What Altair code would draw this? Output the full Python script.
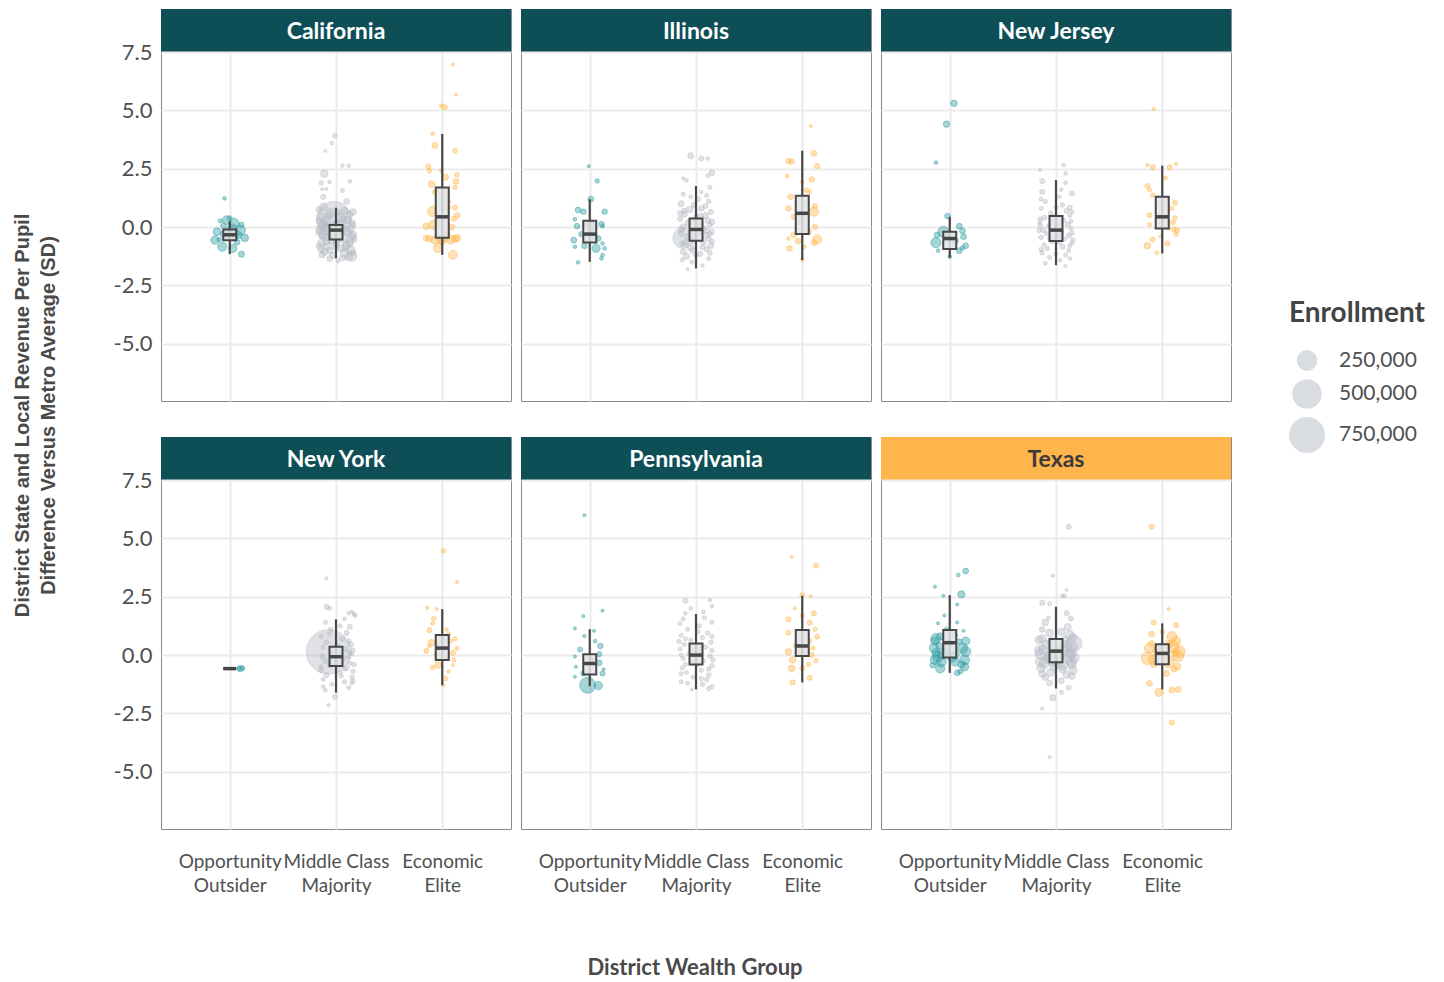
import altair as alt
import pandas as pd

states = ["California", "Illinois", "New Jersey", "New York", "Pennsylvania", "Texas"]
groups = ["Opportunity Outsider", "Middle Class Majority", "Economic Elite"]
group_colors = ["#2a9ba1", "#b4bac3", "#ffb447"]
strip_fill = {"Texas": "#ffb54c"}
strip_default = "#0e4f57"
strip_text = {"Texas": "#3a3a3a"}

# box summaries per state: (low whisker, q1, median, q3, high whisker) per group
box_stats = {
    "California":   [(-1.16, -0.56, -0.33, -0.10, 0.25), (-1.34, -0.53, -0.13, 0.09, 0.83), (-1.19, -0.46, 0.44, 1.70, 3.99)],
    "Illinois":     [(-1.49, -0.66, -0.30, 0.27, 1.19), (-1.77, -0.59, -0.10, 0.37, 1.76), (-1.41, -0.30, 0.59, 1.34, 3.27)],
    "New Jersey":   [(-1.31, -0.94, -0.49, -0.20, 0.44), (-1.63, -0.60, -0.13, 0.47, 2.01), (-1.13, -0.06, 0.44, 1.30, 2.63)],
    "New York":     [(-0.58, -0.58, -0.58, -0.58, -0.58), (-1.61, -0.47, -0.07, 0.36, 1.53), (-1.29, -0.21, 0.30, 0.86, 1.97)],
    "Pennsylvania": [(-1.33, -0.83, -0.36, 0.04, 1.11), (-1.47, -0.40, 0.00, 0.50, 1.76), (-1.17, -0.04, 0.39, 1.07, 2.54)],
    "Texas":        [(-0.76, -0.10, 0.53, 1.07, 2.57), (-1.43, -0.31, 0.17, 0.69, 2.07), (-1.47, -0.39, 0.07, 0.46, 1.36)],
}

# districts: (revenue difference SD, jitter within group, enrollment in thousands)
CA_OO = [(1.23,-0.05,8),(0.30,-0.03,45),(0.16,0.04,60),(0.26,-0.09,10),(-0.20,-0.12,35),(-0.56,-0.14,40),(-0.84,-0.07,50),
         (-0.91,0.03,40),(-1.16,0.11,22),(-0.13,0.10,60),(-0.46,0.14,35),(-0.34,0.08,30),(-0.53,-0.10,12),(-0.25,-0.02,40),
         (-0.40,0.05,25),(0.05,-0.06,18),(-0.10,0.02,70),(-0.65,0.07,18),(-0.30,-0.06,22),(0.38,0.00,14),(-0.45,-0.04,20),(0.10,0.11,16)]
CA_MC = [(3.91,-0.01,12),(3.60,-0.04,8),(3.26,-0.10,5),(2.29,-0.11,35),(2.63,0.06,8),(2.63,0.12,8),(1.89,-0.14,12),(1.93,-0.06,8),
         (1.96,0.13,8),(1.63,-0.13,6),(1.63,-0.09,6),(1.56,0.06,10),(1.30,-0.12,15),(1.10,0.10,20),(0.35,-0.02,700),
         (0.85,-0.12,40),(0.70,0.08,30),(0.60,-0.05,50),(0.55,0.13,25),(0.45,-0.14,35),(0.40,0.04,60),(0.30,0.11,30),(0.25,-0.09,45),
         (0.18,0.15,25),(0.10,-0.13,40),(0.05,0.06,35),(0.00,-0.03,50),(-0.05,0.14,30),(-0.10,-0.15,40),(-0.15,0.09,45),(-0.20,-0.07,35),
         (-0.25,0.12,30),(-0.30,-0.12,50),(-0.35,0.03,40),(-0.40,0.15,35),(-0.45,-0.10,30),(-0.50,0.07,45),(-0.55,-0.04,35),(-0.60,0.13,40),
         (-0.68,-0.14,30),(-0.75,0.10,35),(-0.82,-0.08,45),(-0.90,0.05,30),(-0.98,0.14,40),(-1.05,-0.11,30),(-1.12,0.08,50),(-1.20,-0.03,25),
         (-1.28,0.12,35),(-1.35,-0.06,20),(-1.45,0.02,10),(-1.25,0.15,60),(-0.95,-0.14,25),(0.62,0.02,20),(0.20,0.00,25),(-0.70,0.00,25)]
CA_MC2 = [(0.75,-0.16,20),(0.65,0.16,25),(0.50,-0.07,30),(0.35,0.07,25),(0.15,-0.11,30),(0.08,0.16,20),(-0.02,-0.10,25),
          (-0.12,0.04,30),(-0.22,-0.16,25),(-0.32,0.16,30),(-0.42,-0.01,25),(-0.52,0.17,20),(-0.62,-0.09,30),(-0.72,0.13,25),
          (-0.80,-0.16,20),(-0.88,0.09,30),(-1.00,-0.06,25),(-1.10,0.16,20),(-1.18,-0.13,25),(-1.32,0.06,20),(-0.58,0.01,30),
          (0.28,-0.16,20),(-0.38,-0.13,25),(-0.85,0.00,25)]
CA_EE = [(6.96,0.10,6),(5.67,0.13,6),(5.14,0.02,20),(5.20,-0.01,8),(4.00,-0.09,8),(3.50,-0.07,20),(3.27,0.12,14),(2.60,-0.13,15),
         (2.41,-0.12,12),(2.42,-0.01,8),(2.14,0.03,22),(2.24,0.14,12),(1.96,0.13,20),(1.84,-0.10,25),(1.50,-0.07,14),(1.39,0.02,14),
         (1.70,0.12,12),(0.67,-0.09,60),(0.83,0.05,20),(0.84,0.12,15),(0.50,0.14,20),(0.36,0.11,15),(0.03,-0.15,25),(0.10,-0.08,55),
         (-0.30,0.04,30),(0.00,0.09,20),(-0.47,0.14,30),(-0.47,-0.15,20),(-0.50,-0.12,25),(-0.55,-0.07,40),(-0.55,-0.02,30),(-0.50,0.03,25),
         (-0.55,0.08,40),(-0.50,0.12,30),(-0.90,-0.04,50),(-1.19,0.10,45),(-0.60,0.00,30),(0.20,-0.03,15),(1.10,0.06,12)]

IL_OO = [(2.61,-0.01,6),(1.98,0.07,12),(1.20,0.01,20),(0.73,-0.11,20),(0.66,-0.06,18),(0.66,0.14,18),(0.34,-0.14,8),(0.04,-0.12,18),
         (0.13,0.11,18),(0.04,0.12,10),(-0.56,-0.15,20),(-0.84,-0.14,8),(-0.81,-0.05,18),(-0.91,0.06,40),(-0.70,0.12,8),(-0.91,0.14,8),
         (-1.20,0.12,8),(-1.34,0.11,8),(-1.51,-0.11,8),(-0.49,0.08,18),(-0.30,-0.08,15),(0.00,0.02,60),(-0.40,0.04,25),(0.20,-0.04,12)]
IL_MC = [(3.06,-0.05,20),(2.94,0.05,15),(2.94,0.11,8),(2.33,0.15,20),(2.20,0.11,10),(2.09,-0.12,6),(2.00,-0.09,8),(1.70,0.13,10),
         (1.41,-0.12,10),(1.30,-0.05,8),(1.10,0.12,12),(-0.47,-0.12,250),
         (1.50,0.05,8),(1.20,0.02,15),(1.00,-0.14,20),(0.90,0.09,15),(0.75,-0.06,25),(0.65,0.14,15),(0.55,-0.11,20),(0.45,0.04,25),
         (0.35,-0.15,15),(0.28,0.11,20),(0.18,-0.07,25),(0.10,0.13,15),(0.02,-0.12,20),(-0.05,0.06,30),(-0.12,-0.03,25),(-0.20,0.15,15),
         (-0.28,-0.14,20),(-0.35,0.09,25),(-0.42,-0.08,20),(-0.50,0.12,15),(-0.58,-0.02,25),(-0.65,0.07,20),(-0.72,-0.13,15),(-0.80,0.14,20),
         (-0.88,-0.05,25),(-0.95,0.10,15),(-1.05,-0.12,20),(-1.15,0.04,15),(-1.25,-0.09,20),(-1.35,0.12,10),(-1.50,-0.04,10),(-1.65,0.06,8),
         (-1.80,-0.08,6),(0.40,0.00,20),(-0.25,0.02,30)]
IL_MC2 = [(1.35,0.10,10),(0.95,-0.02,15),(0.80,0.05,20),(0.60,-0.15,15),(0.50,0.09,20),(0.30,-0.04,15),(0.22,0.15,20),(0.05,0.04,15),
          (-0.10,-0.14,20),(-0.30,0.13,15),(-0.38,-0.02,20),(-0.62,0.15,15),(-0.68,-0.10,20),(-0.85,0.06,15),(-1.00,-0.03,20),
          (-1.10,0.13,15),(-1.20,0.00,15),(-1.40,-0.13,10),(0.70,-0.11,15),(-0.15,0.10,20)]
IL_EE = [(4.33,0.08,6),(3.16,0.11,20),(2.61,0.14,18),(2.83,-0.13,18),(2.80,-0.10,18),(2.19,-0.14,8),(2.04,0.09,18),(1.94,0.00,8),
         (1.59,0.04,12),(1.30,-0.11,18),(1.50,0.07,10),(0.80,-0.13,18),(0.66,0.11,50),(0.44,-0.08,15),(0.01,0.12,15),(-0.34,-0.08,18),
         (-0.53,0.14,50),(-0.67,0.11,18),(-0.49,-0.13,8),(-0.91,-0.12,18),(-0.84,0.02,8),(-1.41,0.00,8),(0.20,-0.03,15),(1.00,0.03,15),
         (-0.20,0.06,20),(0.90,0.12,15),(-0.60,-0.04,20)]

NJ_OO = [(5.30,0.04,25),(4.41,-0.03,25),(2.76,-0.13,8),(0.47,-0.02,20),(0.04,0.09,20),(-0.20,-0.06,70),(-0.34,-0.12,20),(-0.67,-0.13,60),
         (-0.16,0.12,20),(-0.41,0.13,20),(-0.80,0.15,20),(-1.01,0.09,20),(-1.01,-0.11,8),(-1.27,0.00,8),(-0.60,0.05,25),(-0.90,0.12,12),
         (-0.50,-0.02,30)]
NJ_MC = [(2.66,0.07,8),(2.44,-0.15,6),(1.97,-0.13,15),(2.30,0.09,8),(1.90,0.09,8),(1.44,0.15,15),(1.51,-0.13,15),(0.83,0.13,15),
         (1.30,0.03,8),(1.10,-0.10,10),(0.95,0.06,12),(0.80,-0.14,10),(0.70,0.10,15),(0.60,-0.05,12),(0.50,0.13,10),(0.40,-0.11,15),
         (0.30,0.07,12),(0.20,-0.15,10),(0.12,0.11,15),(0.05,-0.07,12),(-0.05,0.14,10),(-0.12,-0.12,15),(-0.20,0.05,12),(-0.28,-0.09,10),
         (-0.36,0.12,15),(-0.44,-0.14,12),(-0.52,0.08,10),(-0.60,-0.04,15),(-0.68,0.15,12),(-0.76,-0.11,10),(-0.84,0.06,15),(-0.92,-0.08,12),
         (-1.00,0.12,10),(-1.10,-0.13,12),(-1.20,0.09,10),(-1.30,-0.06,10),(-1.42,0.04,8),(-1.55,-0.10,8),(-1.67,0.09,6),(0.00,0.00,15),
         (-0.40,0.02,15)]
NJ_MC2 = [(1.60,0.05,8),(1.20,-0.14,10),(0.85,0.00,12),(0.65,0.15,10),(0.45,-0.03,12),(0.25,0.14,10),(0.08,-0.15,12),(-0.08,0.03,10),
          (-0.25,0.15,12),(-0.48,-0.06,10),(-0.65,0.03,12),(-0.80,0.13,10),(-0.95,-0.14,12),(-1.15,0.00,10),(-1.35,0.13,8),
          (-0.15,-0.16,12),(0.35,-0.15,10),(-0.55,0.16,10)]
NJ_EE = [(5.06,-0.08,6),(2.66,-0.14,6),(2.56,0.07,15),(2.70,0.13,6),(2.56,-0.09,15),(2.10,0.03,10),(1.76,-0.14,15),(1.60,-0.12,10),
         (1.37,-0.09,12),(1.04,0.12,15),(0.51,-0.12,15),(0.40,0.12,12),(-0.13,0.14,15),(-0.10,0.11,12),(-0.05,0.06,10),(-0.80,-0.14,25),
         (-0.53,-0.09,15),(-0.70,0.05,15),(-0.40,-0.01,10),(0.10,-0.12,10),(0.80,0.09,10),(0.20,0.10,15),(-0.30,0.13,12),(1.20,0.05,8),
         (-1.10,-0.05,8)]

NY_OO = [(-0.58,0.10,25),(-0.56,0.12,12),(-0.58,0.09,8)]
NY_MC = [(0.14,-0.07,1150),(3.29,-0.09,6),(2.07,-0.09,15),(2.00,-0.06,10),(1.80,0.12,8),(1.85,0.15,8),(1.75,0.17,8),(1.70,0.18,10),
         (1.21,0.13,15),(1.40,-0.10,10),(1.10,-0.05,12),(0.95,0.10,15),(0.80,-0.14,12),(0.70,0.06,15),(0.55,-0.09,12),(0.45,0.14,15),
         (0.35,-0.12,10),(0.25,0.09,15),(0.15,-0.04,12),(0.05,0.15,10),(-0.05,-0.13,15),(-0.15,0.07,12),(-0.25,-0.10,15),(-0.35,0.13,10),
         (-0.45,-0.06,12),(-0.55,0.10,15),(-0.65,-0.14,12),(-0.75,0.04,10),(-0.85,-0.09,15),(-0.95,0.15,12),(-1.05,-0.12,10),(-1.15,0.08,12),
         (-1.25,-0.04,10),(-1.40,0.12,10),(-1.50,-0.10,8),(-1.79,-0.01,15),(-2.14,-0.07,6),(-1.10,0.16,10),(0.00,0.02,12)]
NY_MC2 = [(1.55,0.08,8),(1.25,0.04,10),(0.90,-0.06,12),(0.60,0.12,12),(0.40,0.02,10),(0.20,0.16,12),(-0.10,0.12,10),(-0.30,0.03,12),
          (-0.50,-0.14,10),(-0.70,0.16,12),(-0.90,0.05,10),(-1.20,0.15,10),(-1.35,-0.12,8),(-0.40,0.17,12),(0.10,0.13,12),(-0.60,0.08,10)]
NY_EE = [(4.46,0.01,12),(3.12,0.14,6),(2.03,-0.14,6),(1.97,-0.05,6),(1.57,-0.08,12),(1.36,-0.09,8),(1.07,-0.12,15),(1.10,0.04,8),
         (0.90,0.06,10),(0.53,-0.10,25),(0.60,0.08,10),(0.29,0.14,10),(0.10,0.10,15),(0.18,-0.15,15),(0.40,-0.12,10),(-0.10,0.05,10),
         (-0.21,0.11,10),(-0.43,0.10,6),(-0.43,-0.04,25),(-0.53,-0.09,12),(-1.00,0.03,15),(-1.29,0.01,6),(0.70,0.12,10),(0.00,-0.06,10),
         (-0.70,0.06,8)]

PA_OO = [(5.99,-0.05,6),(1.90,0.12,6),(1.67,-0.06,6),(1.14,-0.14,6),(1.04,0.04,6),(0.81,-0.05,6),(0.39,0.10,18),(0.24,-0.09,15),
         (-0.06,-0.14,6),(0.04,0.09,15),(-0.50,-0.13,6),(-0.33,0.09,18),(-0.61,0.13,6),(-0.93,-0.14,6),(-0.79,-0.06,15),(-0.79,0.12,15),
         (-1.29,-0.02,150),(-1.31,0.08,40),(-0.20,0.02,12),(0.60,0.05,8)]
PA_MC = [(2.33,-0.10,15),(2.36,0.13,8),(2.10,0.15,8),(1.79,-0.10,8),(1.85,0.07,8),(1.40,0.15,10),
         (1.55,-0.12,10),(1.25,0.03,12),(1.10,-0.08,10),(0.95,0.11,12),(0.85,-0.14,10),(0.75,0.06,12),(0.65,-0.05,10),(0.55,0.14,12),
         (0.45,-0.11,10),(0.35,0.09,12),(0.25,-0.15,10),(0.15,0.04,12),(0.05,-0.07,10),(-0.05,0.13,12),(-0.15,-0.12,10),(-0.25,0.07,12),
         (-0.35,-0.04,10),(-0.45,0.15,12),(-0.55,-0.13,10),(-0.65,0.05,12),(-0.75,-0.09,10),(-0.85,0.12,12),(-0.95,-0.03,10),(-1.05,0.10,12),
         (-1.15,-0.14,10),(-1.25,0.06,12),(-1.43,0.12,12),(-1.47,-0.04,6),(0.30,0.00,10),(-0.40,0.02,10)]
PA_MC2 = [(2.00,-0.05,8),(1.60,0.08,10),(1.35,-0.15,10),(1.00,0.02,12),(0.80,0.15,10),(0.58,-0.16,12),(0.40,0.04,10),(0.20,0.15,12),
          (0.00,-0.14,10),(-0.20,0.16,12),(-0.40,-0.10,10),(-0.60,0.12,12),(-0.80,-0.14,10),(-1.00,0.05,12),(-1.20,-0.08,10),
          (-1.35,0.15,10),(-0.10,0.00,10),(0.70,-0.10,10)]
PA_EE = [(4.21,-0.10,6),(3.83,0.13,15),(2.57,0.00,15),(2.54,0.08,6),(2.00,-0.07,6),(1.53,-0.13,15),(1.79,0.11,15),(1.70,0.00,10),
         (1.39,0.07,15),(0.96,-0.13,15),(1.10,0.12,10),(0.79,0.14,15),(0.60,0.07,12),(0.14,-0.13,25),(0.14,-0.02,12),(0.30,0.10,12),
         (-0.21,-0.09,25),(-0.24,0.13,12),(-0.57,-0.10,25),(-0.57,0.00,15),(-1.17,-0.09,15),(-0.97,0.07,15),(0.40,-0.06,15),(-0.40,0.06,12),
         (1.00,0.02,10),(0.00,0.09,15)]

TX_OO = [(3.60,0.15,20),(3.43,0.08,8),(2.93,-0.14,6),(2.54,-0.06,6),(2.60,0.11,30),(2.17,0.07,6),(1.36,-0.11,6),(1.70,-0.05,6),
         (1.40,0.07,6),(1.04,0.13,6),(0.71,-0.13,60),(0.60,-0.14,40),(0.57,0.09,20),(0.29,0.12,60),(-0.07,-0.11,70),(-0.29,-0.08,60),
         (-0.21,0.14,60),(-0.57,-0.09,50),(-0.76,0.07,20),(-0.70,0.10,15),(-0.43,-0.16,20),(0.20,-0.04,30),(0.00,0.05,40),(0.40,-0.10,25),
         (0.85,0.05,15),(-0.10,0.02,50),(0.10,-0.13,40),(-0.40,0.11,30),(1.10,-0.03,12),(0.50,0.00,25),
         (0.30,-0.15,50),(0.15,0.15,60),(-0.20,-0.14,50),(0.60,0.15,40),(-0.50,0.14,40),(0.80,-0.09,30),(-0.30,0.05,40),(0.05,-0.07,60)]
TX_MC = [(5.50,0.12,15),(3.40,-0.03,6),(2.79,0.10,6),(2.54,0.06,8),(2.54,0.08,8),(2.24,-0.13,15),(2.20,-0.06,10),(1.57,0.14,15),
         (1.60,-0.07,8),(1.10,-0.13,20),(1.40,-0.10,25),(1.20,0.11,30),(0.95,-0.06,35),(0.85,0.13,50),(0.70,-0.13,40),(0.60,0.08,60),
         (0.45,-0.09,45),(0.35,0.15,70),(0.25,-0.12,50),(0.15,0.06,90),(0.05,-0.15,60),(-0.05,0.12,80),(-0.15,-0.08,50),(-0.25,0.14,70),
         (-0.35,-0.11,60),(-0.45,0.07,50),(-0.55,-0.14,45),(-0.65,0.16,40),(-0.75,-0.05,35),(-0.85,0.10,30),(-0.95,-0.10,25),(-1.10,0.05,20),
         (-1.40,0.12,15),(-1.83,-0.03,25),(-2.29,-0.13,6),(-4.37,-0.06,6),(0.30,0.02,40),(-0.20,0.00,40),(0.50,0.17,150),(-0.10,-0.02,180)]
TX_MC2 = [(1.00,0.05,30),(0.75,0.16,40),(0.55,-0.04,50),(0.40,0.10,60),(0.20,-0.16,50),(0.10,0.14,70),(-0.02,-0.06,60),(-0.12,0.17,60),
          (-0.30,-0.15,50),(-0.40,0.15,45),(-0.50,-0.02,40),(-0.60,0.06,35),(-0.80,-0.13,30),(-0.90,0.15,25),(-1.20,-0.06,20),
          (0.65,-0.16,40),(-0.35,0.02,50),(1.80,0.10,15),(-1.60,0.05,10)]
TX_EE = [(5.50,-0.10,15),(1.97,0.06,6),(1.39,-0.08,15),(1.29,0.13,15),(1.00,0.00,12),(0.79,0.09,60),(0.36,0.10,90),(-0.14,-0.14,90),
         (-0.29,0.06,80),(0.20,-0.05,40),(0.10,0.12,30),(-0.79,0.04,20),(-1.21,-0.12,20),(-1.50,0.09,20),(-1.47,0.15,20),(-1.60,-0.03,40),
         (-2.89,0.09,15),(0.50,-0.10,20),(-0.40,-0.08,25),(-0.60,0.11,20),(0.00,0.02,30),
         (0.60,0.13,50),(0.30,-0.12,60),(-0.05,0.15,70),(-0.20,-0.08,60),(0.15,0.16,80),(-0.50,0.14,30),(0.90,-0.10,20),(0.45,0.06,40)]

districts = {
    "California": [CA_OO, CA_MC + CA_MC2, CA_EE],
    "Illinois": [IL_OO, IL_MC + IL_MC2, IL_EE],
    "New Jersey": [NJ_OO, NJ_MC + NJ_MC2, NJ_EE],
    "New York": [NY_OO, NY_MC + NY_MC2, NY_EE],
    "Pennsylvania": [PA_OO, PA_MC + PA_MC2, PA_EE],
    "Texas": [TX_OO, TX_MC + TX_MC2, TX_EE],
}

y_ticks = [-5.0, -2.5, 0.0, 2.5, 5.0, 7.5]
legend_values = [250000, 500000, 750000]
FONT = "Lato"
PANEL_W, PANEL_H, STRIP_H = 350, 349, 43
INK = "#474747"

label_lines = [[g.rsplit(" ", 1)[0], g.rsplit(" ", 1)[1]] for g in groups]
label_expr = " : ".join(
    [f"datum.value == {i} ? {label_lines[i]!r}" for i in range(2)]) + f" : {label_lines[2]!r}"
y_label_expr = "datum.value < 0 ? '-' + format(-datum.value, '.1f') : format(datum.value, '.1f')"


def x_enc(field, show_labels):
    return alt.X(f"{field}:Q", scale=alt.Scale(domain=[-0.6, 2.6], nice=False, zero=False),
                 axis=alt.Axis(values=[0, 1, 2], grid=True, labels=show_labels, ticks=False, domain=False,
                               title=None, labelExpr=label_expr, labelPadding=23, labelLineHeight=24,
                               labelFontSize=19, labelColor="#505050", labelFont=FONT))


def y_enc(field, show_labels):
    return alt.Y(f"{field}:Q", scale=alt.Scale(domain=[-7.45, 7.5], nice=False, zero=False),
                 axis=alt.Axis(values=y_ticks, grid=True, labels=show_labels, ticks=False,
                               domain=False, title=None, labelPadding=9, labelFontSize=22,
                               labelExpr=y_label_expr, labelColor="#505050", labelFont=FONT))


def panel(state, row, col):
    rows = []
    for gi, pts in enumerate(districts[state]):
        for (v, j, e) in pts:
            rows.append({"group": groups[gi], "pos": gi + j, "value": v, "Enrollment": e * 1000})
    pdf = pd.DataFrame(rows)
    bdf = pd.DataFrame([{"gidx": gi, "lo": s[0], "q1": s[1], "med": s[2], "q3": s[3], "hi": s[4]}
                        for gi, s in enumerate(box_stats[state])])
    show_x = row == 1
    show_y = col == 0

    pts = alt.Chart(pdf).mark_circle(fillOpacity=0.42, strokeOpacity=0.55, strokeWidth=0.8).encode(
        x=x_enc("pos", show_x), y=y_enc("value", show_y),
        size=alt.Size("Enrollment:Q", scale=alt.Scale(domain=[0, 750000], range=[0, 1296]),
                      legend=alt.Legend(title="Enrollment", values=legend_values,
                                        labelExpr="format(datum.value, ',')")),
        fill=alt.Fill("group:N", scale=alt.Scale(domain=groups, range=group_colors), legend=None),
        stroke=alt.Stroke("group:N", scale=alt.Scale(domain=groups, range=group_colors), legend=None),
    )
    whisk = alt.Chart(bdf).mark_rule(color=INK, strokeWidth=2.2).encode(
        x=x_enc("gidx", show_x), y=y_enc("lo", show_y), y2="hi:Q")
    box = alt.Chart(bdf).mark_bar(size=13, fill="#e3e4e6", fillOpacity=0.85, stroke=INK, strokeWidth=2).encode(
        x=x_enc("gidx", show_x), y=y_enc("q1", show_y), y2="q3:Q")
    med = alt.Chart(bdf).mark_tick(orient="horizontal", size=13, thickness=3.5, color=INK, opacity=1).encode(
        x=x_enc("gidx", show_x), y=y_enc("med", show_y))
    plot = alt.layer(pts, whisk, box, med).properties(width=PANEL_W, height=PANEL_H)

    sdf = pd.DataFrame({"state": [state]})
    band = alt.Chart(sdf).mark_rect(fill=strip_fill.get(state, strip_default)).encode(
        x=alt.value(0), x2=alt.value(PANEL_W), y=alt.value(0), y2=alt.value(STRIP_H))
    label = alt.Chart(sdf).mark_text(font=FONT, fontSize=23, fontWeight="bold",
                                     color=strip_text.get(state, "white"), baseline="middle", align="center").encode(
        x=alt.value(PANEL_W / 2), y=alt.value(STRIP_H / 2 + 1), text="state:N")
    strip = alt.layer(band, label).properties(width=PANEL_W, height=STRIP_H)
    return alt.vconcat(strip, plot, spacing=0, bounds="flush")


row1 = alt.hconcat(*[panel(s, 0, i) for i, s in enumerate(states[:3])], spacing=8)
row2 = alt.hconcat(*[panel(s, 1, i) for i, s in enumerate(states[3:])], spacing=8).properties(
    title=alt.TitleParams("District Wealth Group", orient="bottom", anchor="middle", offset=62, dx=23,
                          font=FONT, fontSize=22, fontWeight="bold", color="#4a4a4a"))
grid = alt.vconcat(row1, row2, spacing=34).properties(
    title=alt.TitleParams(["District State and Local Revenue Per Pupil", "Difference Versus Metro Average (SD)"],
                          orient="left", anchor="middle", offset=54, dx=78, font="Liberation Sans", fontSize=20,
                          fontWeight="bold", color="#4a4a4a", lineHeight=26))

chart = grid.properties(padding={"left": 4, "top": 0, "right": 5, "bottom": 0}).configure_view(
    stroke="#8a8a8a", strokeWidth=1
).configure_axis(
    gridColor="#ebebeb", gridWidth=2
).configure_legend(
    orient="none", legendX=1128, legendY=291, titleFont=FONT, titleFontSize=28, titleFontWeight="bold",
    titleColor="#444444", labelFont=FONT, labelFontSize=21, labelColor="#505050",
    symbolFillColor="#d9dce1", symbolStrokeWidth=0, symbolOpacity=1, symbolType="circle",
    rowPadding=8, titlePadding=22, labelOffset=14
)

chart.save("out.html", embed_options={"renderer": "svg", "actions": False})
